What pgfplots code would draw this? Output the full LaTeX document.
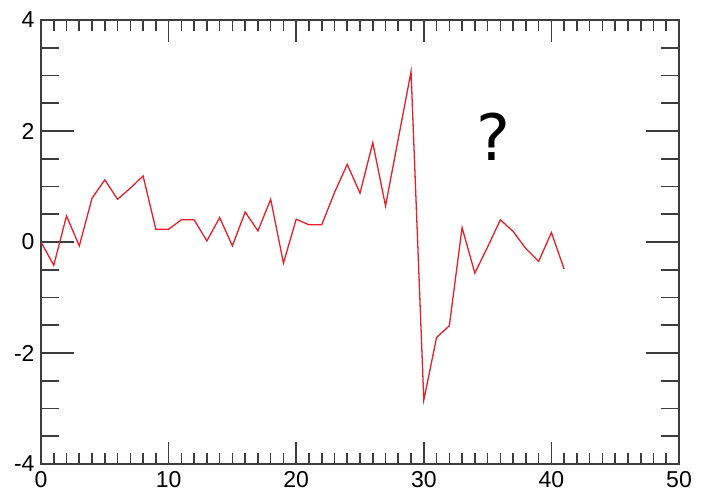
\documentclass[border=0pt]{standalone}
\usepackage{fontspec}
\setmainfont{Liberation Sans}
\newfontfamily\qfont{DejaVu Sans}
\usepackage{pgfplots}
\pgfplotsset{compat=1.18}
\definecolor{linered}{RGB}{232,30,40}
\definecolor{axgray}{RGB}{60,60,60}
\begin{document}
\begin{tikzpicture}
\begin{axis}[
  at={(0,0)}, anchor=south west,
  scale only axis, width=638bp, height=444bp,
  xmin=0,xmax=50,ymin=-4,ymax=4,
  xtick={0,10,...,50}, ytick={-4,-2,...,4},
  minor x tick num=9, minor y tick num=3,
  tick align=inside,
  axis line style={axgray, line width=1.6bp},
  every tick/.style={axgray, line width=1.6bp},
  every major x tick/.append style={/pgfplots/major tick length=22bp},
  every minor x tick/.append style={/pgfplots/minor tick length=11bp},
  every major y tick/.append style={/pgfplots/major tick length=33bp},
  every minor y tick/.append style={/pgfplots/minor tick length=18bp},
  ticklabel style={font=\fontsize{23bp}{26bp}\selectfont, text=black},
  /pgf/number format/assume math mode=true,
  xticklabel style={yshift=-4bp},
  yticklabel style={xshift=-3bp},
]
\addplot[linered, line width=1.3bp, mark=none] coordinates {
(0,0) (1,-0.42) (2,0.47) (3,-0.07) (4,0.79) (5,1.12) (6,0.77) (7,0.97)
(8,1.19) (9,0.23) (10,0.23) (11,0.40) (12,0.40) (13,0.02) (14,0.44)
(15,-0.07) (16,0.54) (17,0.20) (18,0.77) (19,-0.38) (20,0.41) (21,0.31)
(22,0.31) (23,0.89) (24,1.40) (25,0.88) (26,1.79) (27,0.65) (28,1.86)
(29,3.07) (30,-2.85) (31,-1.72) (32,-1.51) (33,0.26) (34,-0.56) (35,-0.09)
(36,0.40) (37,0.19) (38,-0.12) (39,-0.35) (40,0.17) (41,-0.49)
};
\node[font=\qfont\fontsize{64bp}{70bp}\selectfont] at (axis cs:35.45,1.89) {?};
\end{axis}
\pgfresetboundingbox
\path (-41bp,-27bp) rectangle (662bp,464bp);
\end{tikzpicture}
\end{document}
